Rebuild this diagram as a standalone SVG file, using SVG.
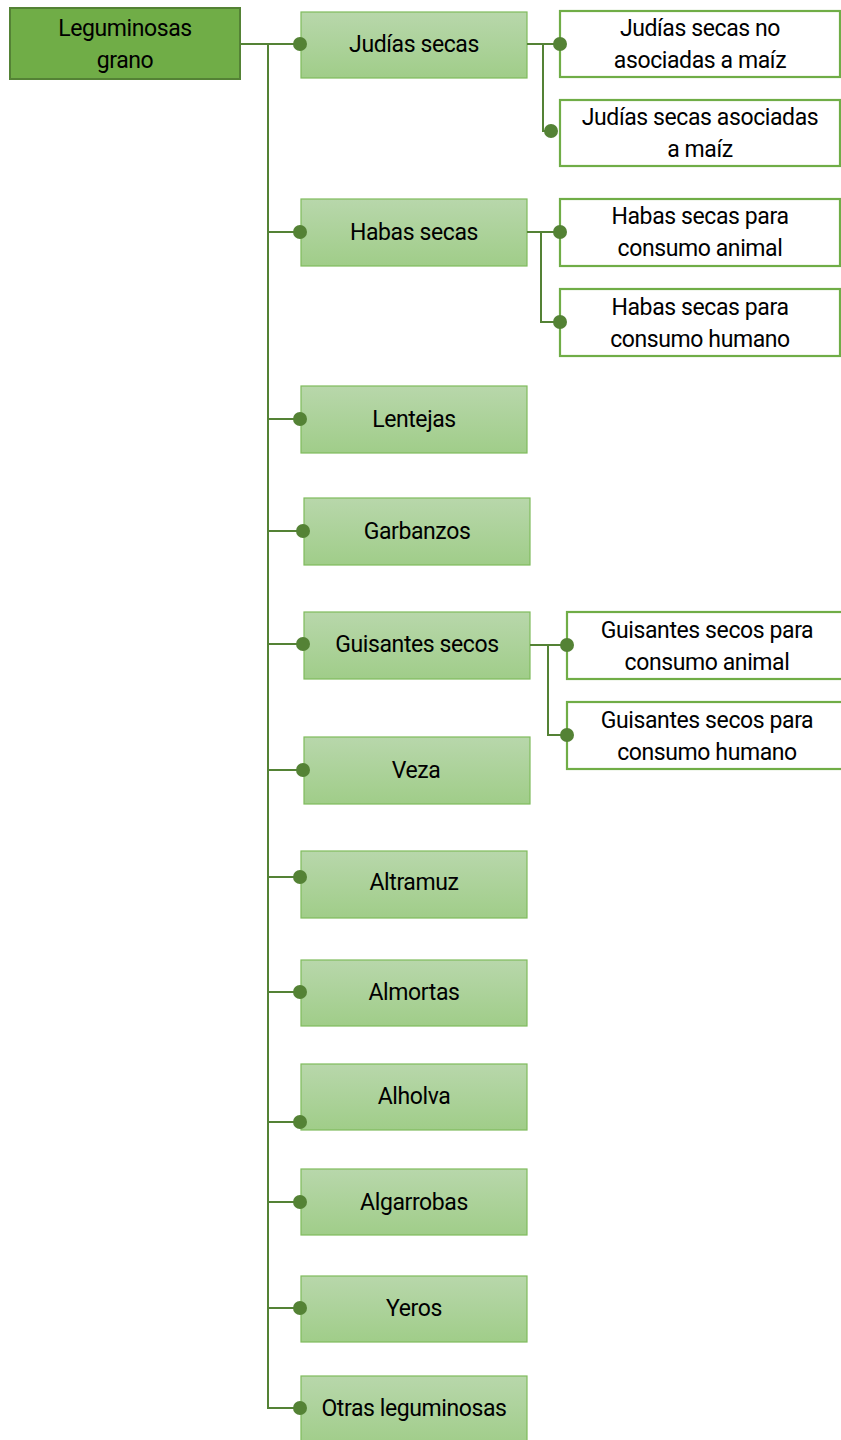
<svg xmlns="http://www.w3.org/2000/svg" width="841" height="1440" viewBox="0 0 841 1440">
<defs>
<linearGradient id="g1" x1="0" y1="0" x2="0" y2="1">
<stop offset="0" stop-color="#b8d7ab"/>
<stop offset="1" stop-color="#a0cd89"/>
</linearGradient>
<style>
.root{fill:#70ad47;stroke:#548235;stroke-width:2}
.l1{fill:url(#g1);stroke:#7fbb5c;stroke-width:1.2}
.l2{fill:#ffffff;stroke:#70ad47;stroke-width:2.2}
.t{font-family:"Liberation Sans Narrow","Roboto","DejaVu Sans Condensed",sans-serif;font-size:23px;letter-spacing:-0.4px;fill:#000;text-anchor:middle}
.c{fill:none;stroke:#548235;stroke-width:2}
.d{fill:#548235}
</style>
</defs>
<g id="root"><rect class="root" x="10" y="8" width="230" height="71"/><text class="t" x="125" y="36">Leguminosas</text><text class="t" x="125" y="68">grano</text></g>
<g id="judias"><rect class="l1" x="301" y="12" width="226" height="66"/><text class="t" x="414" y="52">Judías secas</text></g>
<g id="habas"><rect class="l1" x="301" y="199" width="226" height="67"/><text class="t" x="414" y="240">Habas secas</text></g>
<g id="lentejas"><rect class="l1" x="301" y="386" width="226" height="67"/><text class="t" x="414" y="427">Lentejas</text></g>
<g id="garbanzos"><rect class="l1" x="304" y="498" width="226" height="67"/><text class="t" x="417" y="539">Garbanzos</text></g>
<g id="guisantes"><rect class="l1" x="304" y="612" width="226" height="67"/><text class="t" x="417" y="652">Guisantes secos</text></g>
<g id="veza"><rect class="l1" x="304" y="737" width="226" height="67"/><text class="t" x="416" y="778">Veza</text></g>
<g id="altramuz"><rect class="l1" x="301" y="851" width="226" height="67"/><text class="t" x="414" y="890">Altramuz</text></g>
<g id="almortas"><rect class="l1" x="301" y="960" width="226" height="66"/><text class="t" x="414" y="1000">Almortas</text></g>
<g id="alholva"><rect class="l1" x="301" y="1064" width="226" height="66"/><text class="t" x="414" y="1104">Alholva</text></g>
<g id="algarrobas"><rect class="l1" x="301" y="1169" width="226" height="66"/><text class="t" x="414" y="1210">Algarrobas</text></g>
<g id="yeros"><rect class="l1" x="301" y="1276" width="226" height="66"/><text class="t" x="414" y="1316">Yeros</text></g>
<g id="otras"><rect class="l1" x="301" y="1376" width="226" height="70"/><text class="t" x="414" y="1416">Otras leguminosas</text></g>
<g id="judias-no"><rect class="l2" x="560" y="11" width="280" height="66"/><text class="t" x="700" y="36">Judías secas no</text><text class="t" x="700" y="68">asociadas a maíz</text></g>
<g id="judias-asoc"><rect class="l2" x="560" y="100" width="280" height="66"/><text class="t" x="700" y="125">Judías secas asociadas</text><text class="t" x="700" y="157">a maíz</text></g>
<g id="habas-animal"><rect class="l2" x="560" y="199" width="280" height="67"/><text class="t" x="700" y="224">Habas secas para</text><text class="t" x="700" y="256">consumo animal</text></g>
<g id="habas-humano"><rect class="l2" x="560" y="289" width="280" height="67"/><text class="t" x="700" y="315">Habas secas para</text><text class="t" x="700" y="347">consumo humano</text></g>
<g id="guis-animal"><rect class="l2" x="567" y="612" width="280" height="67"/><text class="t" x="707" y="638">Guisantes secos para</text><text class="t" x="707" y="670">consumo animal</text></g>
<g id="guis-humano"><rect class="l2" x="567" y="702" width="280" height="67"/><text class="t" x="707" y="728">Guisantes secos para</text><text class="t" x="707" y="760">consumo humano</text></g>
<g id="connectors">
<path class="c" d="M240,44 H300 M268,44 V1408 H300"/>
<path class="c" d="M268,232 H300 M268,419 H300 M268,531 H303 M268,644 H303 M268,770 H303 M268,877 H300 M268,992 H300 M268,1122 H300 M268,1202 H300 M268,1308 H300"/>
<path class="c" d="M527,44 H560 M543,44 V131 H551"/>
<path class="c" d="M527,232 H560 M541,232 V322 H560"/>
<path class="c" d="M530,645 H567 M548,645 V735 H567"/>
<circle class="d" cx="300" cy="44" r="7"/>
<circle class="d" cx="300" cy="232" r="7"/>
<circle class="d" cx="300" cy="419" r="7"/>
<circle class="d" cx="303" cy="531" r="7"/>
<circle class="d" cx="303" cy="644" r="7"/>
<circle class="d" cx="303" cy="770" r="7"/>
<circle class="d" cx="300" cy="877" r="7"/>
<circle class="d" cx="300" cy="992" r="7"/>
<circle class="d" cx="300" cy="1122" r="7"/>
<circle class="d" cx="300" cy="1202" r="7"/>
<circle class="d" cx="300" cy="1308" r="7"/>
<circle class="d" cx="300" cy="1408" r="7"/>
<circle class="d" cx="560" cy="44" r="7"/>
<circle class="d" cx="551" cy="131" r="7"/>
<circle class="d" cx="560" cy="232" r="7"/>
<circle class="d" cx="560" cy="322" r="7"/>
<circle class="d" cx="567" cy="645" r="7"/>
<circle class="d" cx="567" cy="735" r="7"/>
</g>
</svg>
